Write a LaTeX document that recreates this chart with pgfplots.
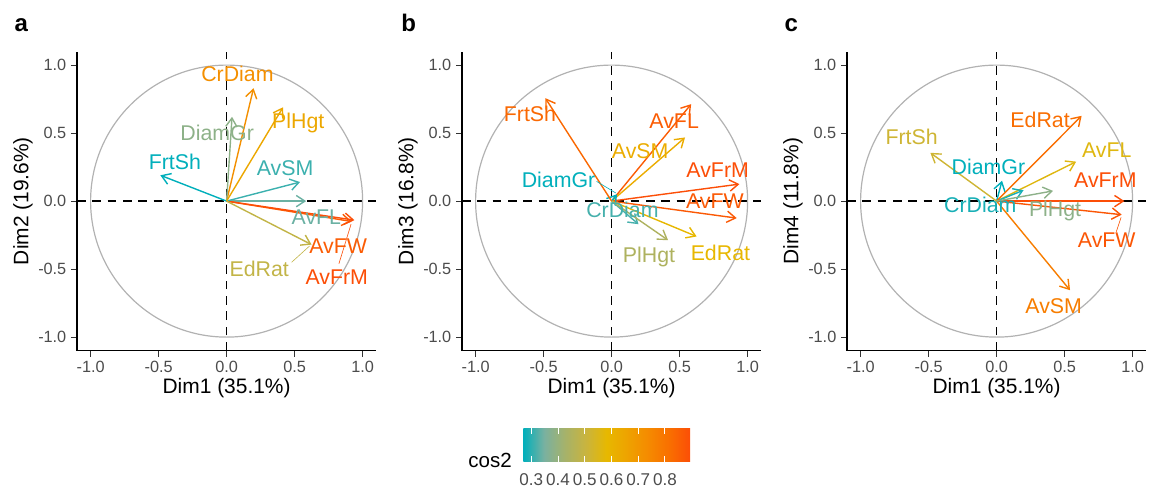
\documentclass[border=0pt]{standalone}
\usepackage{pgfplots}
\pgfplotsset{compat=1.18}
\usetikzlibrary{arrows.meta}
\usepackage{fontspec}
\setmainfont{Liberation Sans}
\definecolor{s0}{HTML}{00AFBB}
\definecolor{s1}{HTML}{7AB1A0}
\definecolor{s2}{HTML}{A6B26A}
\definecolor{s3}{HTML}{C9B43E}
\definecolor{s4}{HTML}{E7B800}
\definecolor{s5}{HTML}{EEA200}
\definecolor{s6}{HTML}{F58A00}
\definecolor{s7}{HTML}{F96F00}
\definecolor{s8}{HTML}{FC4E07}
\pgfdeclarehorizontalshading{cosbar}{100bp}{color(0bp)=(s0); color(25bp)=(s0); color(31.25bp)=(s1); color(37.5bp)=(s2); color(43.75bp)=(s3); color(50bp)=(s4); color(56.25bp)=(s5); color(62.5bp)=(s6); color(68.75bp)=(s7); color(75bp)=(s8); color(100bp)=(s8)}
\globalcolorstrue
\newcommand\mkcol[5]{%
  \pgfmathsetmacro\tv{8*(((#2)*(#2)+(#3)*(#3))-(#4))/((#5)-(#4))}%
  \pgfmathtruncatemacro\kk{min(max(floor(\tv),0),7)}%
  \pgfmathtruncatemacro\kn{\kk+1}%
  \pgfmathsetmacro\pp{max(min((\tv-\kk)*100,100),0)}%
  \edef\tmp{\noexpand\colorlet{#1}{s\kn!\pp!s\kk}}\tmp}
\newcommand\arr[3]{%
  \mkcol{#1}{#2}{#3}{\cmin}{\cmax}%
  \addplot[vec, draw=#1] coordinates {(0,0) (#2,#3)};}
\newcommand\lab[4]{\node[lbl, text=#1] at (axis cs:#2,#3) {#4};}
\newcommand\seg[5]{\addplot[draw=#1, line width=0.45pt] coordinates {(#2,#3) (#4,#5)};}
\tikzset{lbl/.style={font=\fontsize{16}{18}\selectfont, inner sep=0pt, anchor=center}}
\pgfplotsset{
  vec/.style={-{Straight Barb[length=6.5pt,width=8.5pt]}, line width=1.05pt},
  pca/.style={
    scale only axis, width=224.4pt, height=224.4pt,
    xmin=-1.1, xmax=1.1, ymin=-1.1, ymax=1.1,
    axis x line*=bottom, axis y line*=left,
    axis line style={line width=1.1pt, black, -},
    xtick={-1,-0.5,0,0.5,1}, ytick={-1,-0.5,0,0.5,1},
    xticklabels={-1.0,-0.5,0.0,0.5,1.0}, yticklabels={-1.0,-0.5,0.0,0.5,1.0},
    tick align=outside, major tick length=4.5pt,
    tick style={line width=0.9pt, black!80},
    ticklabel style={font=\fontsize{12.2}{14}\selectfont, text=black!70},
    xlabel style={at={(axis description cs:0.5,-0.1237)}, anchor=center, text=black, font=\fontsize{15.7}{18}\selectfont},
    ylabel style={at={(axis description cs:-0.1805,0.5)}, anchor=center, text=black, font=\fontsize{15.7}{18}\selectfont},
    clip=false,
  },
}
\newcommand\decor{%
  \addplot[black, line width=1.05pt, dash pattern=on 6.5pt off 5pt] coordinates {(-1.1,0) (1.1,0)};
  \addplot[black, line width=1.05pt, dash pattern=on 6.5pt off 5pt] coordinates {(0,-1.1) (0,1.1)};
  \draw[black!30, line width=0.9pt] (axis cs:0,0) circle[radius=1];}
\begin{document}
\begin{tikzpicture}
\path[use as bounding box] (0,0) rectangle (870pt,365.25pt);
% panel a
\begin{axis}[pca, at={(57.75pt,102.225pt)}, anchor=south west,
  xlabel={Dim1 (35.1\%)}, ylabel={Dim2 (19.6\%)}]
\def\cmin{0.273}\def\cmax{0.903}
\decor
\arr{aFL}{0.585}{0.00}
\arr{aFW}{0.92}{-0.15}
\arr{aFrM}{0.94}{-0.14}
\arr{aSM}{0.54}{0.14}
\arr{aCr}{0.198}{0.83}
\arr{aDG}{0.04}{0.62}
\arr{aEd}{0.625}{-0.32}
\arr{aFS}{-0.487}{0.19}
\arr{aPH}{0.415}{0.69}
\seg{aEd}{0.478}{-0.45}{0.61}{-0.33}
\seg{aFrM}{0.826}{-0.46}{0.915}{-0.17}
\lab{aFL}{0.66}{-0.115}{AvFL}
\lab{aFW}{0.82}{-0.33}{AvFW}
\lab{aFrM}{0.81}{-0.556}{AvFrM}
\lab{aSM}{0.43}{0.243}{AvSM}
\lab{aCr}{0.08}{0.934}{CrDiam}
\lab{aDG}{-0.069}{0.505}{DiamGr}
\lab{aEd}{0.24}{-0.50}{EdRat}
\lab{aFS}{-0.38}{0.29}{FrtSh}
\lab{aPH}{0.527}{0.578}{PlHgt}
\end{axis}
% panel b
\begin{axis}[pca, at={(346.5pt,102.225pt)}, anchor=south west,
  xlabel={Dim1 (35.1\%)}, ylabel={Dim3 (16.8\%)}]
\def\cmin{0.004}\def\cmax{0.899}
\decor
\arr{bFL}{0.585}{0.713}
\arr{bFW}{0.92}{-0.125}
\arr{bFrM}{0.94}{0.125}
\arr{bSM}{0.54}{0.468}
\arr{bCr}{0.198}{-0.17}
\arr{bDG}{0.04}{0.05}
\arr{bEd}{0.625}{-0.26}
\arr{bFS}{-0.487}{0.757}
\arr{bPH}{0.415}{-0.287}
\seg{bDG}{-0.11}{0.145}{0.03}{0.06}
\lab{bFL}{0.46}{0.59}{AvFL}
\lab{bFW}{0.76}{0.0}{AvFW}
\lab{bFrM}{0.78}{0.23}{AvFrM}
\lab{bSM}{0.21}{0.365}{AvSM}
\lab{bCr}{0.08}{-0.066}{CrDiam}
\lab{bDG}{-0.39}{0.155}{DiamGr}
\lab{bEd}{0.80}{-0.38}{EdRat}
\lab{bFS}{-0.60}{0.64}{FrtSh}
\lab{bPH}{0.275}{-0.41}{PlHgt}
\end{axis}
% panel c
\begin{axis}[pca, at={(635.25pt,102.225pt)}, anchor=south west,
  xlabel={Dim1 (35.1\%)}, ylabel={Dim4 (11.8\%)}]
\def\cmin{0.024}\def\cmax{0.884}
\decor
\arr{cFL}{0.585}{0.29}
\arr{cFW}{0.92}{-0.10}
\arr{cFrM}{0.94}{0.0}
\arr{cSM}{0.54}{-0.655}
\arr{cCr}{0.198}{0.08}
\arr{cDG}{0.04}{0.15}
\arr{cEd}{0.625}{0.627}
\arr{cFS}{-0.487}{0.355}
\arr{cPH}{0.415}{0.075}
\seg{cFW}{0.88}{-0.225}{0.915}{-0.12}
\lab{cFL}{0.81}{0.375}{AvFL}
\lab{cFW}{0.81}{-0.287}{AvFW}
\lab{cFrM}{0.80}{0.155}{AvFrM}
\lab{cSM}{0.42}{-0.77}{AvSM}
\lab{cCr}{-0.12}{-0.03}{CrDiam}
\lab{cDG}{-0.06}{0.25}{DiamGr}
\lab{cEd}{0.32}{0.60}{EdRat}
\lab{cFS}{-0.625}{0.47}{FrtSh}
\lab{cPH}{0.43}{-0.07}{PlHgt}
\end{axis}
% colour bar
\begin{axis}[scale only axis, width=125pt, height=25pt, at={(392.5pt,18.975pt)}, anchor=south west,
  xmin=0.27, xmax=0.894, ymin=0, ymax=1, axis on top,
  axis line style={draw=none}, ytick=\empty,
  xtick={0.3,0.4,0.5,0.6,0.7,0.8}, xticklabels={0.3,0.4,0.5,0.6,0.7,0.8},
  xtick pos=both, tick align=inside, major tick length=4.5pt,
  tick style={white, line width=0.6pt},
  xticklabel style={font=\fontsize{12.8}{14}\selectfont, text=black!70, anchor=center, yshift=-13.7pt}]
\shade[shading=cosbar, shading angle=0] (rel axis cs:0,0) rectangle (rel axis cs:1,1);
\end{axis}
\node[font=\fontsize{15.4}{17}\selectfont, text=black, anchor=center] at (367.5pt,20.25pt) {cos2};
\node[font=\fontsize{18}{20}\selectfont\bfseries, text=black, anchor=base west] at (7.5pt,341.5pt) {a};
\node[font=\fontsize{18}{20}\selectfont\bfseries, text=black, anchor=base west] at (297.5pt,341.5pt) {b};
\node[font=\fontsize{18}{20}\selectfont\bfseries, text=black, anchor=base west] at (585pt,341.5pt) {c};
\end{tikzpicture}
\end{document}
